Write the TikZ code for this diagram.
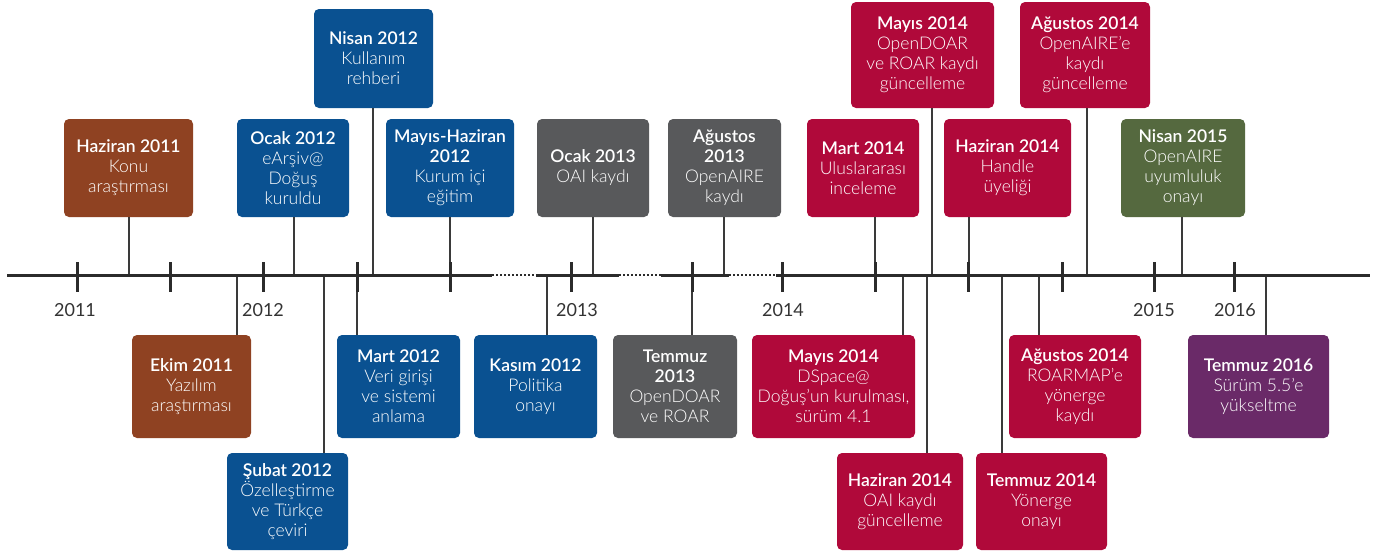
\documentclass[tikz,border=0pt]{standalone}
\usepackage{fontspec}
\setmainfont{Lato}[UprightFont={Lato Light}, BoldFont={Lato Semibold}]
\newfontfamily\yearfont{Lato}
\definecolor{cbrown}{HTML}{8F4222}
\definecolor{cblue}{HTML}{0A5191}
\definecolor{cgrey}{HTML}{58595B}
\definecolor{ccrim}{HTML}{B0093A}
\definecolor{cgreen}{HTML}{55693F}
\definecolor{cpurp}{HTML}{6A2A68}
\definecolor{axisc}{HTML}{2B2B2B}
\definecolor{lineg}{HTML}{3A3A3A}
\definecolor{yearc}{HTML}{333333}
\begin{document}
\begin{tikzpicture}[x=1pt,y=-1pt,
  evbox/.style={fill=#1, text=white, rounded corners=5pt, align=center, inner sep=0pt,
    font=\fontsize{17.5}{20}\selectfont},
  conn/.style={draw=lineg, line width=1.3pt},
  axisline/.style={draw=axisc, line width=3pt},
  dotseg/.style={draw=axisc, line width=1.2pt, dash pattern=on 1.5pt off 2.5pt},
  tickmark/.style={draw=axisc, line width=3pt},
  yearlbl/.style={font=\yearfont\fontsize{18}{20}\selectfont, text=yearc, anchor=base, inner sep=0pt}]
\useasboundingbox (0,0) rectangle (1375,555);

% ---- boxes above the axis
\node[evbox=cbrown, minimum width=129, minimum height=98] (hz11) at (128.5,168)
  {\textbf{Haziran 2011}\\Konu\\araştırması};
\node[evbox=cblue, minimum width=112, minimum height=98] (oc12) at (293,168)
  {\textbf{Ocak 2012}\\eArşiv@\\Doğuş\\kuruldu};
\node[evbox=cblue, minimum width=119, minimum height=99] (ni12) at (373.5,58.5)
  {\textbf{Nisan 2012}\\Kullanım\\rehberi};
\node[evbox=cblue, minimum width=128, minimum height=98] (mh12) at (450,168)
  {\textbf{Mayıs-Haziran}\\\textbf{2012}\\Kurum içi\\eğitim};
\node[evbox=cgrey, minimum width=112, minimum height=98] (oc13) at (593,168)
  {\textbf{Ocak 2013}\\OAI kaydı};
\node[evbox=cgrey, minimum width=113, minimum height=98] (ag13) at (724.5,168)
  {\textbf{Ağustos}\\\textbf{2013}\\OpenAIRE\\kaydı};
\node[evbox=ccrim, minimum width=112, minimum height=98] (ma14) at (863,168)
  {\textbf{Mart 2014}\\Uluslararası\\inceleme};
\node[evbox=ccrim, minimum width=143, minimum height=106] (my14a) at (922.5,55)
  {\textbf{Mayıs 2014}\\OpenDOAR\\ve ROAR kaydı\\güncelleme};
\node[evbox=ccrim, minimum width=127, minimum height=98] (hz14a) at (1007.5,168)
  {\textbf{Haziran 2014}\\Handle\\üyeliği};
\node[evbox=ccrim, minimum width=130, minimum height=106] (ag14a) at (1085,55)
  {\textbf{Ağustos 2014}\\OpenAIRE’e\\kaydı\\güncelleme};
\node[evbox=cgreen, minimum width=124, minimum height=98] (ni15) at (1183,168)
  {\textbf{Nisan 2015}\\OpenAIRE\\uyumluluk\\onayı};

% ---- boxes below the axis
\node[evbox=cbrown, minimum width=119, minimum height=103] (ek11) at (191.5,386.5)
  {\textbf{Ekim 2011}\\Yazılım\\araştırması};
\node[evbox=cblue, minimum width=121, minimum height=97] (su12) at (287.5,501.5)
  {\textbf{Şubat 2012}\\Özelleştirme\\ve Türkçe\\çeviri};
\node[evbox=cblue, minimum width=123, minimum height=103] (mr12) at (398.5,386.5)
  {\textbf{Mart 2012}\\Veri girişi\\ve sistemi\\anlama};
\node[evbox=cblue, minimum width=123, minimum height=103] (ks12) at (535.5,386.5)
  {\textbf{Kasım 2012}\\Politika\\onayı};
\node[evbox=cgrey, minimum width=124, minimum height=103] (tm13) at (675,386.5)
  {\textbf{Temmuz}\\\textbf{2013}\\OpenDOAR\\ve ROAR};
\node[evbox=ccrim, minimum width=163, minimum height=103] (my14b) at (833.5,386.5)
  {\textbf{Mayıs 2014}\\DSpace@\\Doğuş\symbol{39}un kurulması,\\sürüm 4.1};
\node[evbox=ccrim, minimum width=126, minimum height=97] (hz14b) at (900,501.5)
  {\textbf{Haziran 2014}\\OAI kaydı\\güncelleme};
\node[evbox=ccrim, minimum width=131, minimum height=97] (tm14) at (1041.5,501.5)
  {\textbf{Temmuz 2014}\\Yönerge\\onayı};
\node[evbox=ccrim, minimum width=132, minimum height=103] (ag14b) at (1075,386.5)
  {\textbf{Ağustos 2014}\\ROARMAP’e\\yönerge\\kaydı};
\node[evbox=cpurp, minimum width=141, minimum height=103] (tm16) at (1258.5,386.5)
  {\textbf{Temmuz 2016}\\Sürüm 5.5’e\\yükseltme};

% ---- connector feet on the axis
\foreach \n/\x in {hz11/129, oc12/294, ni12/373, mh12/450, oc13/593, ag13/724,
                   ma14/875, my14a/932, hz14a/969, ag14a/1087, ni15/1182}
  {\coordinate (f\n) at (\x,275);
   \draw[conn] (f\n) -- (f\n |- \n.south);}
\foreach \n/\x in {ek11/237, su12/324, mr12/357, ks12/547, tm13/692, my14b/903,
                   hz14b/927, tm14/1002, ag14b/1039, tm16/1266}
  {\coordinate (f\n) at (\x,275);
   \draw[conn] (f\n) -- (f\n |- \n.north);}

% ---- axis
\coordinate (a0) at (7,275);
\coordinate (a1) at (492,275);
\coordinate (a2) at (536,275);
\coordinate (a3) at (619,275);
\coordinate (a4) at (661,275);
\coordinate (a5) at (729,275);
\coordinate (a6) at (776,275);
\coordinate (a7) at (1370,275);
\draw[axisline] (a0) -- (a1);
\draw[dotseg] (a1) -- (a2);
\draw[axisline] (a2) -- (a3);
\draw[dotseg] (a3) -- (a4);
\draw[axisline] (a4) -- (a5);
\draw[dotseg] (a5) -- (a6);
\draw[axisline] (a6) -- (a7);

% ---- ticks
\foreach \x [count=\i] in {77,170,263,357,450,571,692,782,875,968,1062,1154,1234}
  {\coordinate (tt\i) at (\x,262);
   \coordinate (tb\i) at (\x,292);
   \draw[tickmark] (tt\i) -- (tb\i);}

% ---- year labels
\node[yearlbl] (y2011) at (75,316) {2011};
\node[yearlbl] (y2012) at (263,316) {2012};
\node[yearlbl] (y2013) at (577,316) {2013};
\node[yearlbl] (y2014) at (783,316) {2014};
\node[yearlbl] (y2015) at (1154,316) {2015};
\node[yearlbl] (y2016) at (1235,316) {2016};
\end{tikzpicture}
\end{document}
